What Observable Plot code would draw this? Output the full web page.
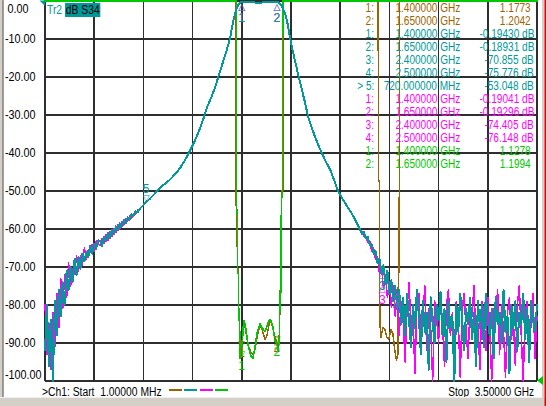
<!DOCTYPE html>
<html><head><meta charset="utf-8">
<script src="https://cdn.jsdelivr.net/npm/d3@7"></script>
<script src="https://cdn.jsdelivr.net/npm/@observablehq/plot@0.6"></script>
<style>
html,body{margin:0;padding:0;background:#fff;}
#wrap{position:relative;width:546px;height:406px;overflow:hidden;background:#fff;font-family:"Liberation Sans",Arial,sans-serif;font-size:12px;}
#wrap svg{position:absolute;left:0;top:0;}
.abs{position:absolute;white-space:pre;line-height:13px;}
.nar{transform:scaleX(0.84);transform-origin:100% 50%;}
.narL{transform:scaleX(0.86);transform-origin:0 50%;}
</style></head><body><div id="wrap"></div>
<script>
// ---------- colours ----------
const BROWN = "#9c6400", TEAL = "#009999", MAGENTA = "#ff00ff", GREEN = "#00c800", GRID = "#2e2e2e";

// ---------- axes ----------
const yTicks = [0, -10, -20, -30, -40, -50, -60, -70, -80, -90, -100];
const yTickLabels = ["0.00", "-10.00", "-20.00", "-30.00", "-40.00", "-50.00", "-60.00", "-70.00", "-80.00", "-90.00", "-100.00"];
const xGrid = [1, 350.9, 700.8, 1050.7, 1400.6, 1750.5, 2100.4, 2450.3, 2800.2, 3150.1, 3500]; // MHz
const startLabel = ">Ch1: Start  1.00000 MHz";
const stopLabel = "Stop  3.50000 GHz";

// ---------- Tr2 (S34, teal) and Tr3 (magenta), dB ----------
const leftStart = 1, sweepStep = 14; // MHz
const tr2Left = [-92,-80,-96,-84,-100,-79,-88,-76,-83,-74,-80,-71,-76,-70,-74,-68,-72,-67.5,-70.5,-66.5,-68.5,-66,-67.5,-64.5,-66.5,-63.8,-65.2,-63,
  -63.2,-64.6,-62.0,-63.3,-61.0,-62.4,-60.2,-61.3,-59.3,-60.4,-58.5,-59.4,-57.6,-58.5,-56.9,-57.6,-56.1,-56.6,-55.3,-55.6];
const tr3Left = [-80,-93,-85,-97,-82,-91,-77,-86,-73,-81,-72,-78,-69,-75,-70.5,-72,-67,-71,-67,-69.5,-65,-68,-65.5,-66,-64,-65.8,-63.2,-64,
  -64.4,-62.6,-63.8,-61.6,-62.9,-60.7,-61.9,-59.9,-61.0,-58.9,-60.0,-58.1,-59.0,-57.3,-58.0,-56.6,-57.1,-55.9,-56.2,-55.1];
// shared smooth part of the filter response
const skirtFreq = [677,719,748,797,840,890,926,961,990,1018,1054,1082,1103,1132,1153,1182,1210,1246,1274,1295,1317,1331,1345,1359,1374,1388,1400,1459,1516,1566,1615,1650,1671,1686,1700,1715,1729,1743,1765,1793,1815,1850,1871,1914,1957,1992,2028,2056,2085,2120,2149,2184,2220];
const skirtDb = [-54.6,-53.0,-52.0,-50.1,-48.5,-47.0,-45.6,-44.0,-42.3,-40.4,-37.8,-35.5,-33.5,-30.5,-28.0,-25.5,-22.8,-18.5,-15.2,-12.7,-9.8,-7.0,-4.5,-2.5,-1.1,-0.5,-0.19,-0.3,-0.45,-0.35,-0.25,-0.19,-0.6,-1.4,-2.6,-4.0,-6.5,-9.5,-13.5,-18.0,-21.4,-26.7,-30.3,-35.0,-39.0,-41.8,-44.3,-47.0,-50.0,-52.3,-54.0,-56.0,-58.5];
const rightStart = 2240; // MHz
const tr2Right = [-60.0,-61.2,-60.8,-62.5,-62.0,-64.2,-64.0,-66.5,-65.8,-69.0,
  -68.0,-71.5,-69.5,-74.5,-71.0,-77.0,-73.5,-79.0,-75.0,-81.0,
  -76.0,-85.0,-78.0,-88.0,-77.0,-84.0,-91.0,-80.0,-86.0,-76.0,
  -83.0,-93.0,-79.0,-87.0,-82.0,-97.0,-78.0,-85.0,-90.0,-80.0,
  -84.0,-76.5,-88.0,-81.0,-95.0,-79.0,-86.0,-83.0,-100.0,-80.0,
  -87.0,-77.0,-84.0,-92.0,-81.0,-85.0,-78.0,-89.0,-82.0,-96.0,
  -79.0,-86.0,-80.0,-91.0,-77.0,-84.0,-88.0,-81.0,-94.0,-78.0,
  -85.0,-82.0,-90.0,-76.0,-87.0,-83.0,-98.0,-80.0,-86.0,-79.0,
  -92.0,-82.0,-85.0,-77.0,-89.0,-81.0,-95.0,-79.0,-84.0,-87.0,-80.0];
const tr3Right = [-60.3,-60.6,-61.8,-61.9,-63.5,-63.1,-65.8,-65.0,-68.0,-67.2,
  -72.0,-70.0,-75.5,-72.0,-78.0,-74.0,-80.5,-75.0,-83.0,-76.5,
  -88.0,-79.0,-84.0,-95.0,-81.0,-74.0,-86.0,-83.0,-98.0,-80.0,
  -77.0,-89.0,-84.0,-75.0,-92.0,-81.0,-86.0,-100.0,-79.0,-83.0,
  -90.0,-78.0,-85.0,-96.0,-80.0,-76.0,-88.0,-82.0,-93.0,-79.0,
  -84.0,-99.0,-81.0,-77.0,-87.0,-94.0,-80.0,-83.0,-75.0,-90.0,
  -85.0,-97.0,-79.0,-82.0,-92.0,-78.0,-86.0,-100.0,-81.0,-84.0,
  -76.0,-93.0,-80.0,-87.0,-99.0,-82.0,-78.0,-89.0,-84.0,-96.0,
  -80.0,-75.0,-88.0,-100.0,-82.0,-79.0,-91.0,-85.0,-77.0,-94.0,-83.0];

// ---------- Tr1 (brown) and Tr4 (green), SWR ----------
const SWR_REF = 1.0, SWR_PER_DIV = 0.2, SWR_TOP = 3.0;
const tr1Freq = [1,1360,1361,1367,1369,1376,1378,1384,1390,1400,1410,1417,1430,1445,1466,1480,1495,1509,1530,1545,1566,1580,1595,1608,1623,1637,1650,1660,1668,1674,1683,1685,1693,1695,2370,2374,2380,2382,2390,2404,2418,2432,2446,2460,2475,2489,2500,2510,2514,2520,2522,3500];
const tr1Swr  = [3.0,3.0,1.92,1.90,1.60,1.58,1.36,1.32,1.16,1.177,1.27,1.31,1.26,1.19,1.15,1.14,1.17,1.23,1.30,1.27,1.22,1.24,1.30,1.32,1.27,1.23,1.204,1.19,1.25,1.48,1.50,2.00,2.0,3.0,3.0,2.06,2.04,1.31,1.23,1.28,1.27,1.23,1.22,1.27,1.25,1.16,1.11,1.14,1.56,1.58,3.0,3.0];
const tr4Freq = [1,1362,1363,1369,1371,1377,1379,1385,1389,1400,1410,1417,1430,1445,1466,1480,1495,1509,1530,1545,1566,1580,1595,1608,1623,1637,1650,1660,1668,1672,1680,1682,1690,1692,3500];
const tr4Swr  = [3.0,3.0,1.90,1.88,1.57,1.56,1.34,1.30,1.12,1.128,1.28,1.32,1.27,1.19,1.13,1.12,1.18,1.25,1.30,1.28,1.26,1.29,1.32,1.32,1.28,1.21,1.199,1.16,1.24,1.46,1.47,1.96,1.98,3.0,3.0];

// ---------- markers ----------
const tr1Markers = [{n:1,f:1400,v:1.1773},{n:2,f:1650,v:1.2042}];
const tr2Markers = [{n:1,f:1400,v:-0.19430},{n:2,f:1650,v:-0.18931},{n:3,f:2400,v:-70.855},{n:4,f:2500,v:-75.776},{n:5,f:720,v:-53.048,active:true}];
const tr3Markers = [{n:1,f:1400,v:-0.19041},{n:2,f:1650,v:-0.19296},{n:3,f:2400,v:-74.405},{n:4,f:2500,v:-76.148}];
const tr4Markers = [{n:1,f:1400,v:1.1278},{n:2,f:1650,v:1.1994}];

// ---------- build tables ----------
const seq = (start, vals) => vals.map((v, i) => ({f: start + i * sweepStep, v}));
const skirt = skirtFreq.map((f, i) => ({f, v: skirtDb[i]}));
const tr2 = [...seq(leftStart, tr2Left), ...skirt, ...seq(rightStart, tr2Right)];
const tr3 = [...seq(leftStart, tr3Left), ...skirt, ...seq(rightStart, tr3Right)];
const tr1 = tr1Freq.map((f, i) => ({f, v: tr1Swr[i]}));
const tr4 = tr4Freq.map((f, i) => ({f, v: tr4Swr[i]}));
const swrY = d => -100 + (Math.min(d.v, SWR_TOP) - SWR_REF) / SWR_PER_DIV * 10;
const dbY = d => d.v;

const glyphFont = "DejaVu Sans";
function markerMarks(ms, color, yf, placeOf) {
  const out = [];
  const below = ms.filter(m => placeOf(m) === "below");
  const above = ms.filter(m => placeOf(m) === "above");
  if (below.length) {
    out.push(Plot.text(below, {x: "f", y: yf, text: () => "\u25B3", fill: color, fontFamily: glyphFont, fontSize: 9, dy: 5}));
    out.push(Plot.text(below, {x: "f", y: yf, text: d => String(d.n), fill: color, fontSize: 12, dy: 16}));
  }
  if (above.length) {
    out.push(Plot.text(above, {x: "f", y: yf, text: () => "\u25BD", fill: color, fontFamily: glyphFont, fontSize: 9, dy: -4}));
    out.push(Plot.text(above, {x: "f", y: yf, text: d => String(d.n), fill: color, fontSize: 12, dy: -13}));
  }
  return out;
}
function swrMarkers(ms, color, labelDy) {
  return [
    Plot.text(ms, {x: "f", y: swrY, text: () => "\u25BD", fill: color, fontFamily: glyphFont, fontSize: 9, dy: -3}),
    Plot.text(ms, {x: "f", y: swrY, text: d => String(d.n), fill: color, fontSize: 12, dy: labelDy})
  ];
}
const dbPlace = m => (m.active ? "above" : "below");

const crisp = "crispEdges";
const chart = Plot.plot({
  width: 546, height: 406,
  marginLeft: 44.5, marginRight: 9.5, marginTop: 0.5, marginBottom: 25.5,
  x: {type: "linear", domain: [1, 3500], axis: null},
  y: {type: "linear", domain: [-100, 0], axis: null},
  style: {background: "transparent", fontFamily: '"Liberation Sans",Arial,sans-serif', fontSize: "12px", color: "#000", overflow: "visible"},
  marks: [
    Plot.ruleY(yTicks, {stroke: GRID, strokeWidth: 1.6, shapeRendering: crisp}),
    Plot.ruleX(xGrid, {stroke: GRID, strokeWidth: 1.6, shapeRendering: crisp}),
    Plot.line(tr1, {x: "f", y: swrY, stroke: BROWN, strokeWidth: 1.5, shapeRendering: crisp}),
    Plot.line(tr4, {x: "f", y: swrY, stroke: GREEN, strokeWidth: 1.6, shapeRendering: crisp}),
    Plot.line(tr3, {x: "f", y: dbY, stroke: MAGENTA, strokeWidth: 1.5, shapeRendering: crisp}),
    Plot.line(tr2, {x: "f", y: dbY, stroke: TEAL, strokeWidth: 2, shapeRendering: crisp}),
    ...swrMarkers(tr1Markers, BROWN, 6),
    ...swrMarkers(tr4Markers, GREEN, 9),
    ...markerMarks(tr3Markers, MAGENTA, dbY, dbPlace),
    ...markerMarks(tr2Markers, TEAL, dbY, dbPlace),
    Plot.text([yTicks[0]], {y: d => d, text: () => yTickLabels[0], frameAnchor: "left", textAnchor: "start", dx: -37.5, dy: 8, fill: "#000"}),
    Plot.text(yTicks.slice(1, -1), {y: d => d, text: (d, i) => yTickLabels[i + 1], frameAnchor: "left", textAnchor: "start", dx: -40, fill: "#000"}),
    Plot.text([yTicks[10]], {y: d => d, text: () => yTickLabels[10], frameAnchor: "left", textAnchor: "start", dx: -40, dy: -5.5, fill: "#000"})
  ]
});
const wrap = document.getElementById("wrap");
wrap.appendChild(chart);
// narrow the axis labels a little (the instrument font is condensed)
chart.querySelectorAll("text").forEach(t => {
  if (/^-?\d+\.00$/.test(t.textContent)) {
    const len = t.getComputedTextLength();
    t.setAttribute("textLength", (len * 0.9).toFixed(1));
    t.setAttribute("lengthAdjust", "spacingAndGlyphs");
  }
});

function add(html, css, cls) { const d = document.createElement("div"); d.className = "abs " + (cls || ""); d.style.cssText += css; d.innerHTML = html; wrap.appendChild(d); return d; }

// ---------- marker table ----------
const fmtF = f => f >= 1000 ? (f / 1000).toFixed(6) + " GHz" : f.toFixed(6) + " MHz";
const rows = [
  ...tr1Markers.map(m => ({c: BROWN, m, unit: ""})),
  ...tr2Markers.map(m => ({c: TEAL, m, unit: " dB"})),
  ...tr3Markers.map(m => ({c: MAGENTA, m, unit: " dB"})),
  ...tr4Markers.map(m => ({c: GREEN, m, unit: ""}))
];
rows.forEach((r, i) => {
  const top = 2 + 13.04 * i;
  add((r.m.active ? "> " : "") + r.m.n + ":", `right:172px;top:${top}px;color:${r.c};text-align:right;`, "nar");
  add(fmtF(r.m.f), `right:86px;top:${top}px;color:${r.c};text-align:right;`, "nar");
  add(r.m.v.toPrecision(5) + r.unit, `right:${r.unit ? 12 : 15}px;top:${top}px;color:${r.c};text-align:right;`, "nar");
});

// ---------- trace title ----------
add(`<span style="color:${TEAL}">Tr2</span> <span style="background:${TEAL};color:#000;padding:0 1px;">dB S34</span>`, "left:47px;top:4px;", "narL");

// ---------- bottom line ----------
add(startLabel, "left:42px;top:386px;color:#000;", "narL");
add(stopLabel, "right:12px;top:386px;color:#000;text-align:right;", "nar");
[BROWN, TEAL, MAGENTA, GREEN].forEach((c, i) => {
  const d = document.createElement("div");
  d.style.cssText = `position:absolute;left:${169 + i * 15.3}px;top:389px;width:13px;height:2px;background:${c};`;
  wrap.appendChild(d);
});

// ---------- window frame / indicators ----------
const deco = document.createElementNS("http://www.w3.org/2000/svg", "svg");
deco.setAttribute("width", 546); deco.setAttribute("height", 406);
deco.style.cssText = "position:absolute;left:0;top:0;pointer-events:none;";
deco.innerHTML = `
 <rect x="0" y="0" width="2.5" height="406" fill="#d4d0c8"/>
 <rect x="2.5" y="0" width="1" height="397" fill="#404040"/>
 <rect x="0" y="397" width="546" height="9" fill="#d4d0c8"/>
 <rect x="0" y="397" width="546" height="1" fill="#eeeeee"/>
 <rect x="542" y="0" width="2.5" height="406" fill="#d4d0c8"/>
 <rect x="544.5" y="0" width="1.5" height="406" fill="#e00000"/>
 <polygon points="39.5,0.5 45,0.5 45,6" fill="${TEAL}"/>
 <polygon points="537,380.5 543,376 543,385" fill="${GREEN}"/>`;
wrap.appendChild(deco);
</script></body></html>
